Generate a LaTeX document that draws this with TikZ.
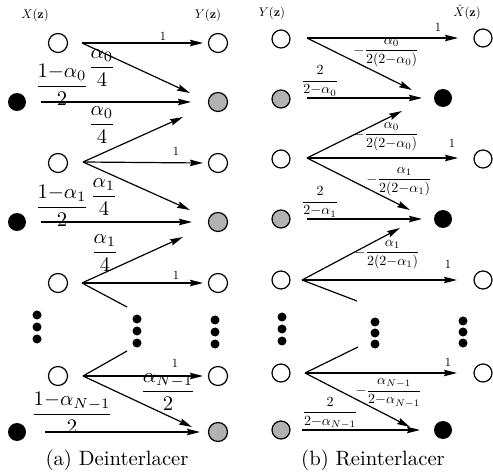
\documentclass[tikz,border=0pt]{standalone}
\usepackage{amsmath}
\usetikzlibrary{arrows.meta}
\begin{document}
\begin{tikzpicture}[x=1pt,y=-1pt,
  opn/.style={circle,draw,line width=1.2pt,inner sep=0pt,minimum size=19pt},
  opns/.style={circle,draw,line width=1.2pt,inner sep=0pt,minimum size=18pt},
  blk/.style={circle,fill=black,inner sep=0pt,minimum size=18pt},
  gry/.style={circle,draw,line width=1.2pt,fill=black!30,inner sep=0pt,minimum size=19pt},
  gry2/.style={circle,draw,line width=1.2pt,fill=black!30,inner sep=0pt,minimum size=18pt},
  dotn/.style={circle,fill=black,inner sep=0pt,minimum size=9pt},
  arr/.style={line width=1.2pt,-{Stealth[length=13pt,width=6.5pt,inset=1.5pt]}},
  ln/.style={line width=1.2pt},
  sm/.style={inner sep=0pt,scale=1.25},
  rf/.style={inner sep=0pt,scale=1.4},
  bg/.style={inner sep=0pt,scale=2.07},
  captxt/.style={inner sep=0pt,scale=2.07}]
\useasboundingbox (0,0) rectangle (493,473);

% ---------------- (a) Deinterlacer ----------------
\node[sm] (tx) at (35,15) {$X(\mathbf{z})$};
\node[sm] (ty) at (208,15) {$Y(\mathbf{z})$};

\node[opn] (L0) at (58,43) {};
\node[blk] (L1) at (17,102) {};
\node[opn] (L2) at (58,163) {};
\node[blk] (L3) at (17,222) {};
\node[opn] (L4) at (58,283) {};
\node[opn] (L6) at (58,376) {};
\node[blk] (L7) at (17,432) {};
\node[opn] (R0) at (218,43) {};
\node[gry] (R1) at (218,102) {};
\node[opn] (R2) at (218,163) {};
\node[gry] (R3) at (218,222) {};
\node[opn] (R4) at (218,283) {};
\node[opn] (R6) at (218,376) {};
\node[gry] (R7) at (218,432) {};

\foreach \i/\x/\y in {1/37/315,2/37/327,3/37/339,4/137/319,5/137/331,6/137/343,7/215/320,8/215/332,9/215/344}
  \node[dotn] (ad\i) at (\x,\y) {};

\coordinate (a0) at (82,43); \coordinate (a0e) at (203,43); \coordinate (a0d) at (190,93);
\coordinate (a1) at (41,102); \coordinate (a1e) at (191,102);
\coordinate (a2) at (83,162); \coordinate (a2u) at (183,117); \coordinate (a2e) at (203,163); \coordinate (a2d) at (190,210);
\coordinate (a3) at (41,222); \coordinate (a3e) at (192,222);
\coordinate (a4) at (82,283); \coordinate (a4u) at (183,237); \coordinate (a4e) at (203,283); \coordinate (a4d) at (127,307);
\coordinate (a6) at (83,376); \coordinate (a6u) at (127,351); \coordinate (a6e) at (203,376); \coordinate (a6d) at (192,427);
\coordinate (a7) at (45,432); \coordinate (a7e) at (200,432);

\draw[arr] (a0) -- (a0e);
\draw[arr] (a0) -- (a0d);
\draw[arr] (a1) -- (a1e);
\draw[arr] (a2) -- (a2u);
\draw[arr] (a2) -- (a2e);
\draw[arr] (a2) -- (a2d);
\draw[arr] (a3) -- (a3e);
\draw[arr] (a4) -- (a4u);
\draw[arr] (a4) -- (a4e);
\draw[ln] (a4) -- (a4d);
\draw[ln] (a6) -- (a6u);
\draw[arr] (a6) -- (a6e);
\draw[arr] (a6) -- (a6d);
\draw[arr] (a7) -- (a7e);

\node[sm] (l1a) at (163,36) {$1$};
\node[sm] (l1b) at (176,151) {$1$};
\node[sm] (l1c) at (176,275) {$1$};
\node[sm] (l1d) at (175,363) {$1$};
\node[bg] (fa0) at (102,68) {$\dfrac{\alpha_0}{4}$};
\node[bg] (fb0) at (62,85) {$\dfrac{1{-}\alpha_0}{2}$};
\node[bg] (fc0) at (102,125) {$\dfrac{\alpha_0}{4}$};
\node[bg] (fa1) at (104,197) {$\dfrac{\alpha_1}{4}$};
\node[bg] (fb1) at (62,206) {$\dfrac{1{-}\alpha_1}{2}$};
\node[bg] (fc1) at (105,253) {$\dfrac{\alpha_1}{4}$};
\node[bg] (fan) at (168,392) {$\dfrac{\alpha_{N-1}}{2}$};
\node[bg] (fbn) at (72,413) {$\dfrac{1{-}\alpha_{N-1}}{2}$};

\node[captxt] (capa) at (117,460) {(a) Deinterlacer};

% ---------------- (b) Reinterlacer ----------------
\node[sm] (ty2) at (272,13) {$Y(\mathbf{z})$};
\node[sm] (tx2) at (467,12) {$\hat{X}(\mathbf{z})$};

\node[opns] (P0) at (281,39) {};
\node[gry2] (P1) at (281,99) {};
\node[opns] (P2) at (281,159) {};
\node[gry2] (P3) at (281,219) {};
\node[opns] (P4) at (281,280) {};
\node[opns] (P6) at (281,373) {};
\node[gry2] (P7) at (281,430) {};
\node[opns] (Q0) at (483,38) {};
\node[blk] (Q1) at (443,98) {};
\node[opns] (Q2) at (483,159) {};
\node[blk] (Q3) at (443,219) {};
\node[opns] (Q4) at (483,280) {};
\node[opns] (Q6) at (483,373) {};
\node[blk] (Q7) at (443,430) {};

\foreach \i/\x/\y in {1/282/317,2/282/329,3/282/341,4/375/322,5/375/333,6/375/344,7/463/321,8/463/332,9/463/343}
  \node[dotn] (bd\i) at (\x,\y) {};

\coordinate (b0) at (307,38); \coordinate (b0e) at (458,38); \coordinate (b0d) at (412,90);
\coordinate (b1) at (307,98); \coordinate (b1e) at (422,98);
\coordinate (b2) at (307,158); \coordinate (b2u) at (402,111); \coordinate (b2e) at (458,158); \coordinate (b2d) at (410,210);
\coordinate (b3) at (307,219); \coordinate (b3e) at (422,219);
\coordinate (b4) at (302,280); \coordinate (b4u) at (400,228); \coordinate (b4e) at (457,280); \coordinate (b4d) at (357,301);
\coordinate (b6) at (305,373); \coordinate (b6u) at (358,347); \coordinate (b6e) at (457,373); \coordinate (b6d) at (410,427);
\coordinate (b7) at (302,430); \coordinate (b7e) at (420,430);

\draw[arr] (b0) -- (b0e);
\draw[arr] (b0) -- (b0d);
\draw[arr] (b1) -- (b1e);
\draw[arr] (b2) -- (b2u);
\draw[arr] (b2) -- (b2e);
\draw[arr] (b2) -- (b2d);
\draw[arr] (b3) -- (b3e);
\draw[arr] (b4) -- (b4u);
\draw[arr] (b4) -- (b4e);
\draw[ln] (b4) -- (b4d);
\draw[ln] (b6) -- (b6u);
\draw[arr] (b6) -- (b6e);
\draw[arr] (b6) -- (b6d);
\draw[arr] (b7) -- (b7e);

\node[sm] (m1a) at (438,27) {$1$};
\node[sm] (m1b) at (452,143) {$1$};
\node[sm] (m1c) at (448,264) {$1$};
\node[sm] (m1d) at (448,362) {$1$};
\node[rf,anchor=east] (ga0) at (419,53) {$-\dfrac{\alpha_0}{2(2{-}\alpha_0)}$};
\node[rf] (gb0) at (320,81) {$\dfrac{2}{2{-}\alpha_0}$};
\node[rf,anchor=east] (gc0) at (419,137) {$-\dfrac{\alpha_0}{2(2{-}\alpha_0)}$};
\node[rf,anchor=east] (ga1) at (432,182) {$-\dfrac{\alpha_1}{2(2{-}\alpha_1)}$};
\node[rf] (gb1) at (320,202) {$\dfrac{2}{2{-}\alpha_1}$};
\node[rf,anchor=east] (gc1) at (420,255) {$-\dfrac{\alpha_1}{2(2{-}\alpha_1)}$};
\node[rf,anchor=east] (gan) at (422,393) {$-\dfrac{\alpha_{N-1}}{2{-}\alpha_{N-1}}$};
\node[rf] (gbn) at (330,413) {$\dfrac{2}{2{-}\alpha_{N-1}}$};

\node[captxt] (capb) at (373,460) {(b) Reinterlacer};
\end{tikzpicture}
\end{document}
